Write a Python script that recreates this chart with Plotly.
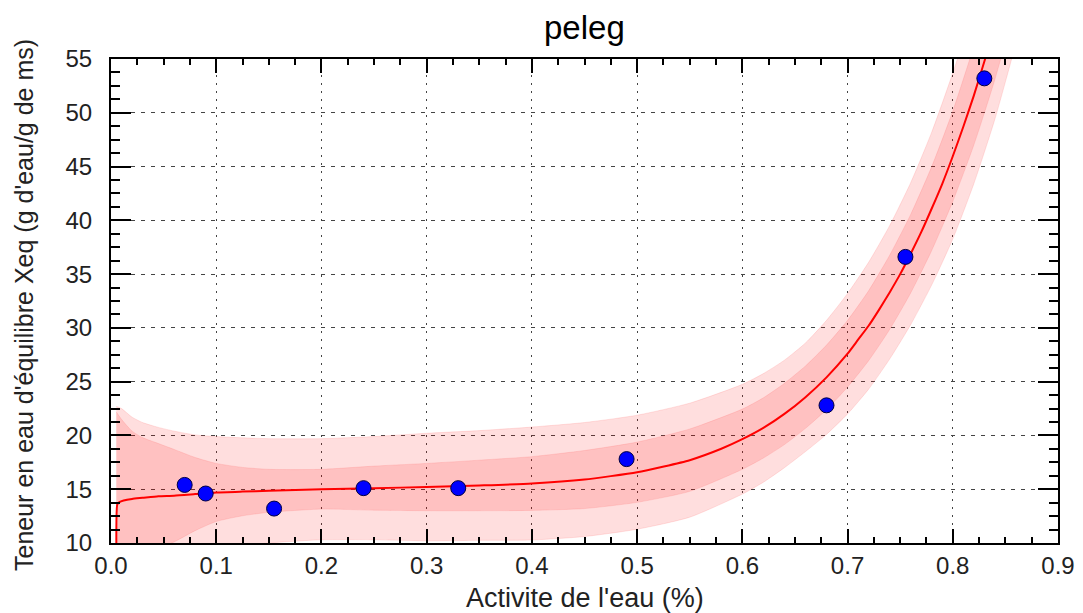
import plotly.graph_objects as go

# measured points
aw_obs = [0.07, 0.09, 0.155, 0.24, 0.33, 0.49, 0.68, 0.755, 0.83]
xeq_obs = [15.4, 14.6, 13.2, 15.1, 15.1, 17.8, 22.8, 36.6, 53.2]

# fitted curve
fit_x = [0.0055, 0.006, 0.008, 0.012, 0.02, 0.03, 0.045, 0.06, 0.08, 0.1, 0.125, 0.15,
         0.2, 0.25, 0.3, 0.35, 0.4, 0.45, 0.5, 0.55, 0.58, 0.6, 0.62, 0.64, 0.66, 0.68,
         0.7, 0.71, 0.72, 0.73, 0.74, 0.75, 0.76, 0.77, 0.78, 0.79, 0.8, 0.81, 0.82, 0.83, 0.84]
fit_y = [5.0, 13.6, 13.8, 13.95, 14.1, 14.2, 14.35, 14.4, 14.55, 14.7, 14.78, 14.85,
         15.0, 15.1, 15.2, 15.35, 15.53, 15.9, 16.58, 17.7, 18.76, 19.65, 20.7, 22.0, 23.56, 25.4,
         27.6, 28.9, 30.2, 31.7, 33.3, 35.0, 36.9, 38.9, 41.1, 43.4, 45.96, 48.7, 51.6, 54.76, 58.1]

# bands
band_x = [0.005, 0.01, 0.02, 0.03, 0.045, 0.06, 0.08, 0.1, 0.125, 0.15, 0.2, 0.25, 0.3, 0.35,
          0.4, 0.45, 0.5, 0.55, 0.6, 0.62, 0.64, 0.66, 0.68, 0.7, 0.72, 0.74, 0.76, 0.78,
          0.8, 0.82, 0.84, 0.86, 0.88]
outer_hi = [22.7, 22.5, 21.7, 21.2, 20.75, 20.4, 20.05, 19.9, 19.78, 19.7, 19.7, 19.9, 20.2, 20.45,
            20.78, 21.2, 21.88, 23.0, 24.75, 25.75, 27.0, 28.6, 30.7, 33.2, 36.1, 39.5, 43.5, 48.2,
            53.7, 59.8, 66.8, 74.7, 83.8]
outer_lo = [4.3, 5.3, 6.5, 7.2, 7.95, 8.4, 9.05, 9.5, 9.78, 10.0, 10.3, 10.3, 10.2, 10.25,
            10.28, 10.6, 11.28, 12.4, 14.55, 15.65, 17.0, 18.5, 20.1, 22.0, 24.3, 27.1, 30.3, 34.0,
            38.26, 43.4, 49.4, 56.5, 64.6]
inner_hi = [22.2, 21.5, 20.4, 19.8, 19.25, 18.7, 17.95, 17.4, 17.03, 16.85, 16.85, 17.15, 17.4, 17.7,
            18.03, 18.6, 19.38, 20.6, 22.45, 23.5, 24.85, 26.46, 28.4, 30.7, 33.45, 36.75, 40.55, 45.0,
            50.16, 56.2, 63.1, 71.0, 80.0]
inner_lo = [4.8, 6.3, 7.8, 8.6, 9.45, 10.1, 11.15, 12.0, 12.53, 12.85, 13.15, 13.05, 13.0, 13.0,
            13.03, 13.2, 13.78, 14.8, 16.85, 17.9, 19.15, 20.66, 22.4, 24.5, 26.95, 29.85, 33.25, 37.2,
            41.76, 47.0, 53.1, 60.2, 68.4]

x_ticks = [0.0, 0.1, 0.2, 0.3, 0.4, 0.5, 0.6, 0.7, 0.8, 0.9]
y_ticks = [10, 15, 20, 25, 30, 35, 40, 45, 50, 55]

FONT = "Liberation Sans, Arial, sans-serif"
band_fill = "rgba(255,0,0,0.13)"
edge = dict(color="rgba(255,90,90,0.22)", width=0.8, shape="spline", smoothing=0.6)

fig = go.Figure()
fig.add_trace(go.Scatter(x=band_x, y=outer_lo, mode="lines", line=edge, hoverinfo="skip"))
fig.add_trace(go.Scatter(x=band_x, y=outer_hi, mode="lines", line=edge, fill="tonexty",
                         fillcolor=band_fill, hoverinfo="skip"))
fig.add_trace(go.Scatter(x=band_x, y=inner_lo, mode="lines", line=edge, hoverinfo="skip"))
fig.add_trace(go.Scatter(x=band_x, y=inner_hi, mode="lines", line=edge, fill="tonexty",
                         fillcolor=band_fill, hoverinfo="skip"))
fig.add_trace(go.Scatter(x=fit_x, y=fit_y, mode="lines",
                         line=dict(color="#ff0000", width=2, shape="spline", smoothing=0.5)))
fig.add_trace(go.Scatter(x=aw_obs, y=xeq_obs, mode="markers",
                         marker=dict(color="#0000ff", size=15, line=dict(color="#000040", width=1))))

axis_common = dict(showline=True, linecolor="black", linewidth=2, mirror="allticks",
                   ticks="inside", tickcolor="black", tickwidth=1.5,
                   showgrid=True, gridcolor="#444444", gridwidth=1.4,
                   zeroline=False,
                   tickfont=dict(family=FONT, size=24, color="#222222"))

fig.update_xaxes(range=[0, 0.9], tickvals=x_ticks, ticktext=[f"{v:.1f}" for v in x_ticks],
                 ticklen=14, ticklabelstandoff=0, griddash="2px,6px",
                 minor=dict(dtick=0.025, ticklen=6, ticks="inside", tickcolor="black", showgrid=False),
                 **axis_common)
fig.update_yaxes(range=[10, 55], tickvals=y_ticks, ticklen=20, ticklabelstandoff=12,
                 griddash="4px,6px",
                 minor=dict(dtick=1.25, ticklen=9, ticks="inside", tickcolor="black", showgrid=False),
                 **axis_common)

fig.update_layout(
    width=1083, height=613,
    margin=dict(l=111, r=25, t=59, b=70, autoexpand=False),
    plot_bgcolor="white", paper_bgcolor="white",
    showlegend=False, hovermode=False,
    annotations=[
        dict(text="peleg", xref="paper", yref="paper", x=0.5, y=(543 - 27) / 484,
             xanchor="center", yanchor="middle", showarrow=False,
             font=dict(family=FONT, size=33, color="black")),
        dict(text="Activite de l'eau (%)", xref="paper", yref="paper", x=0.5, y=(543 - 598) / 484,
             xanchor="center", yanchor="middle", showarrow=False,
             font=dict(family=FONT, size=27, color="#222222")),
        dict(text="Teneur en eau d'équilibre Xeq (g d'eau/g de ms)", xref="paper", yref="paper",
             x=(24 - 111) / 947, y=(543 - 305) / 484, textangle=-90,
             xanchor="center", yanchor="middle", showarrow=False,
             font=dict(family=FONT, size=25, color="#222222")),
    ],
)

fig.write_html("out.html")
